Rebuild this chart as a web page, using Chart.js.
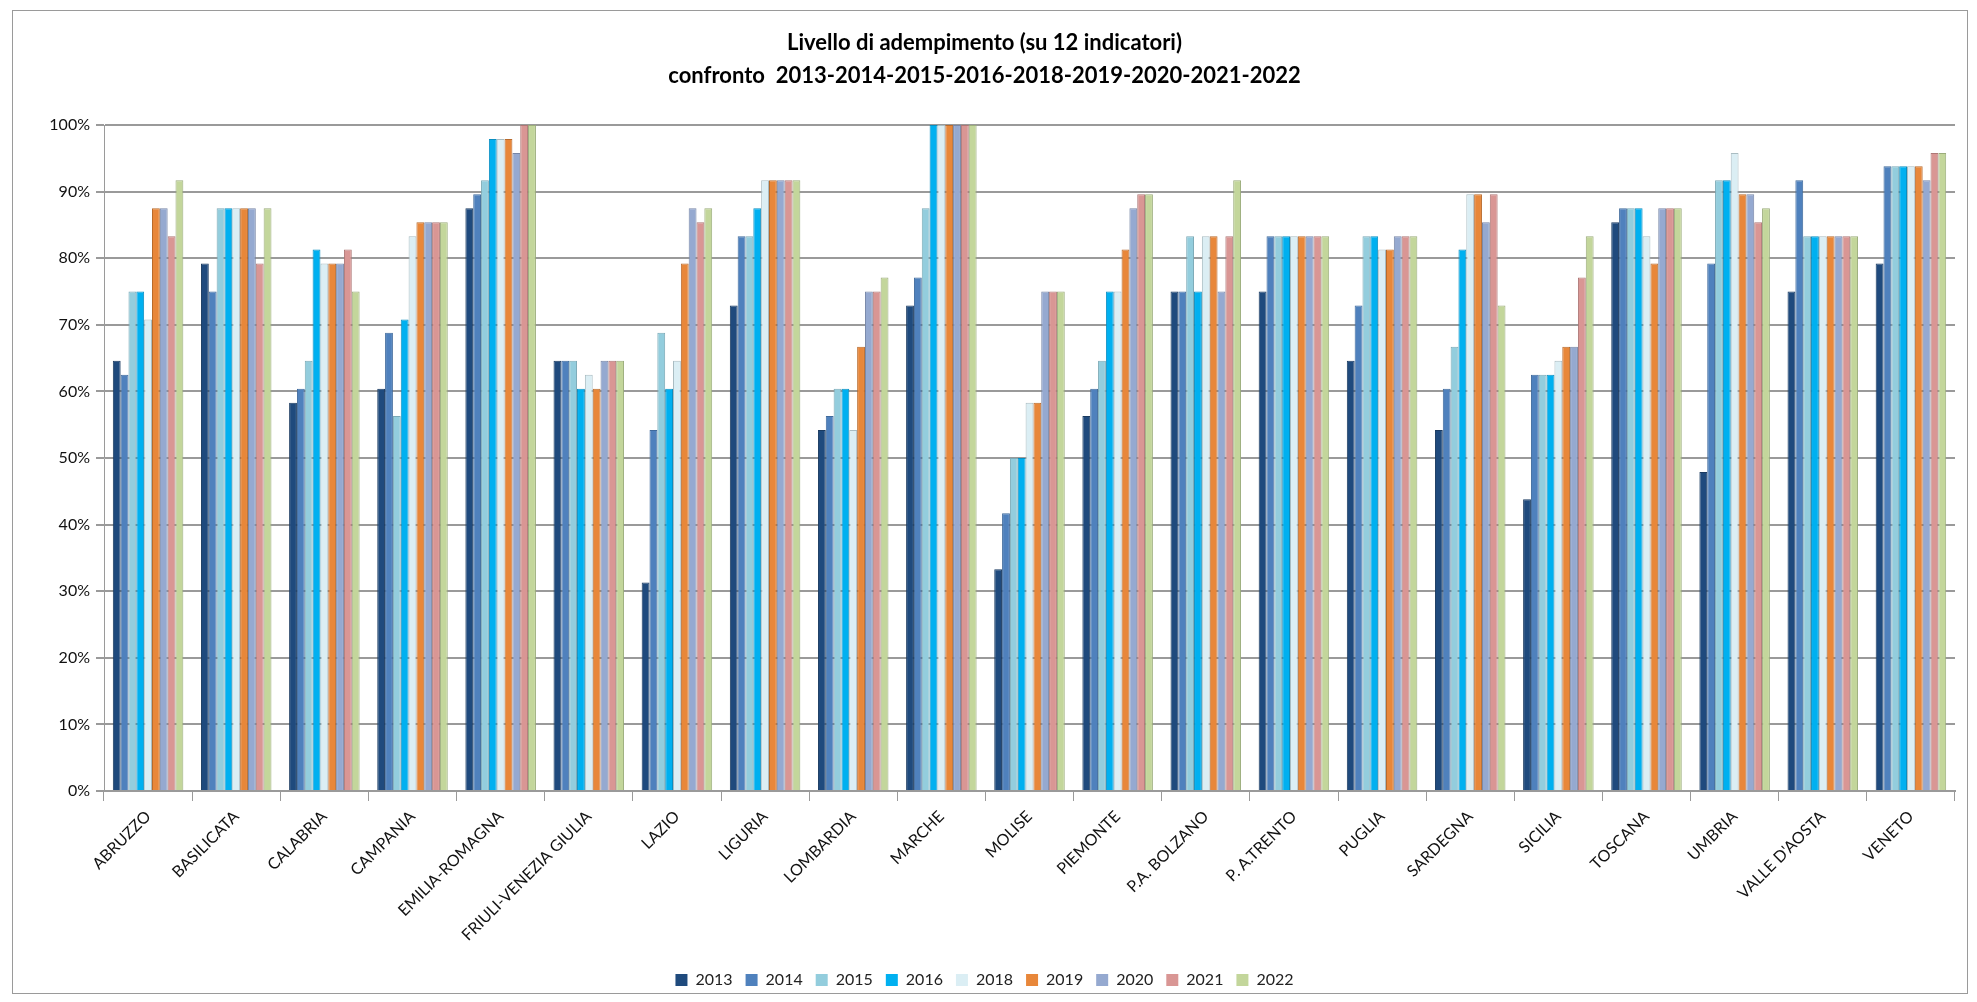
<!DOCTYPE html>
<html>
<head>
<meta charset="utf-8">
<script src="https://cdn.jsdelivr.net/npm/chart.js@4"></script>
<style>
  body { margin: 0; background: #fff; }
  #wrap { position: relative; width: 1977px; height: 1002px; }
  #frame { position: absolute; left: 12px; top: 10px; width: 1954px; height: 982px; border: 1px solid #9a9a9a; pointer-events: none; }
</style>
</head>
<body>
<div id="wrap">
  <canvas id="chart" width="1977" height="1002"></canvas>
  <div id="frame"></div>
</div>
<script>
// Categories
const regions = ['ABRUZZO', 'BASILICATA', 'CALABRIA', 'CAMPANIA', 'EMILIA-ROMAGNA', 'FRIULI-VENEZIA GIULIA',
  'LAZIO', 'LIGURIA', 'LOMBARDIA', 'MARCHE', 'MOLISE', 'PIEMONTE', 'P.A. BOLZANO', 'P. A.TRENTO',
  'PUGLIA', 'SARDEGNA', 'SICILIA', 'TOSCANA', 'UMBRIA', "VALLE D'AOSTA", 'VENETO'];

const years = ['2013', '2014', '2015', '2016', '2018', '2019', '2020', '2021', '2022'];

// Percentages per year
const v2013 = [64.6, 79.2, 58.3, 60.4, 87.5, 64.6, 31.3, 72.9, 54.2, 72.9, 33.3, 56.3, 75, 75, 64.6, 54.2, 43.8, 85.4, 47.9, 75, 79.2];
const v2014 = [62.5, 75, 60.4, 68.8, 89.6, 64.6, 54.2, 83.3, 56.3, 77.1, 41.7, 60.4, 75, 83.3, 72.9, 60.4, 62.5, 87.5, 79.2, 91.7, 93.8];
const v2015 = [75, 87.5, 64.6, 56.3, 91.7, 64.6, 68.8, 83.3, 60.4, 87.5, 50, 64.6, 83.3, 83.3, 83.3, 66.7, 62.5, 87.5, 91.7, 83.3, 93.8];
const v2016 = [75, 87.5, 81.3, 70.8, 97.9, 60.4, 60.4, 87.5, 60.4, 100, 50, 75, 75, 83.3, 83.3, 81.3, 62.5, 87.5, 91.7, 83.3, 93.8];
const v2018 = [70.8, 87.5, 79.2, 83.3, 97.9, 62.5, 64.6, 91.7, 54.2, 100, 58.3, 75, 83.3, 83.3, 81.3, 89.6, 64.6, 83.3, 95.8, 83.3, 93.8];
const v2019 = [87.5, 87.5, 79.2, 85.4, 97.9, 60.4, 79.2, 91.7, 66.7, 100, 58.3, 81.3, 83.3, 83.3, 81.3, 89.6, 66.7, 79.2, 89.6, 83.3, 93.8];
const v2020 = [87.5, 87.5, 79.2, 85.4, 95.8, 64.6, 87.5, 91.7, 75, 100, 75, 87.5, 75, 83.3, 83.3, 85.4, 66.7, 87.5, 89.6, 83.3, 91.7];
const v2021 = [83.3, 79.2, 81.3, 85.4, 100, 64.6, 85.4, 91.7, 75, 100, 75, 89.6, 83.3, 83.3, 83.3, 89.6, 77.1, 87.5, 85.4, 83.3, 95.8];
const v2022 = [91.7, 87.5, 75, 85.4, 100, 64.6, 87.5, 91.7, 77.1, 100, 75, 89.6, 91.7, 83.3, 83.3, 72.9, 83.3, 87.5, 87.5, 83.3, 95.8];

const series = [v2013, v2014, v2015, v2016, v2018, v2019, v2020, v2021, v2022];

const yTicks = [0, 10, 20, 30, 40, 50, 60, 70, 80, 90, 100];

const fills = ['#1f4a7d', '#4f81bd', '#93cddd', '#00b0f0', '#dbeef4', '#e8873a', '#95a9d0', '#d99694', '#c3d69b'];
const borders = ['#1a3a60', '#3f6a9c', '#7aa9b6', '#0a8ec0', '#a9bcc2', '#b86a2c', '#7786a6', '#ae7776', '#9bac7b'];

const FONT = 'Lato, "Open Sans", sans-serif';

const datasets = years.map((y, i) => ({
    label: y,
    data: series[i],
    backgroundColor: fills[i],
    borderColor: borders[i],
    borderWidth: 1,
    barPercentage: 1.0,
    categoryPercentage: 0.8
}));

new Chart(document.getElementById('chart'), {
    type: 'bar',
    data: { labels: regions, datasets: datasets },
    options: {
        responsive: false,
        animation: false,
        layout: { padding: { left: 14, right: 22, top: 14, bottom: 4 } },
        plugins: {
            title: {
                display: true,
                text: ['Livello di adempimento (su 12 indicatori)', 'confronto  2013-2014-2015-2016-2018-2019-2020-2021-2022'],
                color: '#000',
                font: { family: FONT, size: 22, weight: 'bold', lineHeight: 1.5 },
                padding: { top: 12, bottom: 33 }
            },
            legend: {
                position: 'bottom',
                labels: {
                    color: '#222',
                    font: { family: FONT, size: 16 },
                    boxWidth: 12,
                    boxHeight: 12,
                    padding: 13,
                    generateLabels: chart => chart.data.datasets.map((d, i) => ({
                        text: d.label,
                        fillStyle: d.backgroundColor,
                        strokeStyle: d.backgroundColor,
                        lineWidth: 0,
                        datasetIndex: i,
                        fontColor: '#222'
                    }))
                }
            },
            tooltip: { enabled: false }
        },
        scales: {
            x: {
                grid: { display: true, drawOnChartArea: false, drawTicks: true, tickLength: 10, color: '#9a9a9a', offset: true },
                border: { color: '#9a9a9a', width: 2 },
                ticks: {
                    color: '#111',
                    font: { family: FONT, size: 16 },
                    minRotation: 45,
                    maxRotation: 45,
                    autoSkip: false,
                    padding: 6
                },
                afterFit: s => { s.height = 168; }
            },
            y: {
                min: 0,
                max: 100,
                afterBuildTicks: s => { s.ticks = yTicks.map(v => ({ value: v })); },
                grid: { color: '#9a9a9a', lineWidth: 2, tickLength: 8 },
                border: { color: '#9a9a9a', width: 1 },
                ticks: {
                    color: '#111',
                    font: { family: FONT, size: 16 },
                    padding: 6,
                    callback: v => v + '%'
                },
                afterFit: s => { s.width = 90; }
            }
        }
    }
});
</script>
</body>
</html>
